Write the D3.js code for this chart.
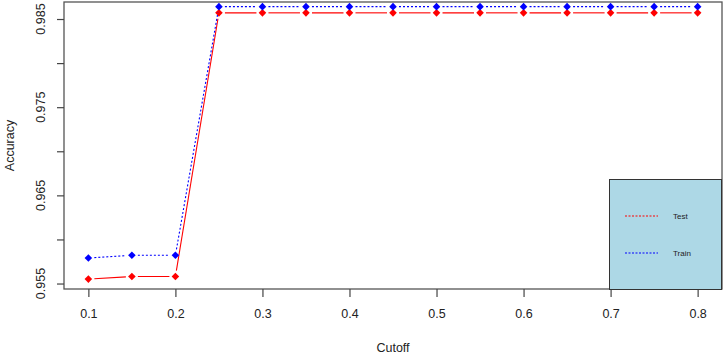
<!DOCTYPE html>
<html>
<head>
<meta charset="utf-8">
<script src="https://cdn.jsdelivr.net/npm/d3@7"></script>
<style>
body { margin: 0; background: #fff; }
svg { display: block; font-family: "Liberation Sans", Arial, sans-serif; }
</style>
</head>
<body>
<svg id="chart" width="724" height="355"></svg>
<script>
const cutoffs = [0.1, 0.15, 0.2, 0.25, 0.3, 0.35, 0.4, 0.45, 0.5, 0.55, 0.6, 0.65, 0.7, 0.75, 0.8];
const testAcc = [0.9555, 0.9558, 0.9558, 0.9857, 0.9857, 0.9857, 0.9857, 0.9857, 0.9857, 0.9857, 0.9857, 0.9857, 0.9857, 0.9857, 0.9857];
const trainAcc = [0.9579, 0.9582, 0.9582, 0.9864, 0.9864, 0.9864, 0.9864, 0.9864, 0.9864, 0.9864, 0.9864, 0.9864, 0.9864, 0.9864, 0.9864];
const xTicks = [0.1, 0.2, 0.3, 0.4, 0.5, 0.6, 0.7, 0.8];
const yTicks = [0.955, 0.96, 0.965, 0.97, 0.975, 0.98, 0.985];
const yLabeled = ["0.955", "0.965", "0.975", "0.985"];
const seriesNames = ["Test", "Train"];

const svg = d3.select("#chart");
const L = 64, R = 722, T = 2, B = 289;

const x = d3.scaleLinear().domain([0.072, 0.828]).range([L, R]);
const y = d3.scaleLinear().domain([0.95438, 0.98693]).range([B, T]);

// frame
svg.append("rect").attr("x", L).attr("y", T).attr("width", R - L).attr("height", B - T)
  .attr("fill", "none").attr("stroke", "#555").attr("stroke-width", 1.3);

// x axis
const xa = svg.append("g").attr("transform", `translate(0,${B})`)
  .call(d3.axisBottom(x).tickValues(xTicks).tickSize(8).tickPadding(12).tickFormat(d3.format(".1f")));
xa.select(".domain").remove();
xa.selectAll("line").attr("stroke", "#444").attr("stroke-width", 1.2);
xa.selectAll("text").attr("font-size", 12.5).attr("fill", "#222");

// y axis
const ya = svg.append("g").attr("transform", `translate(${L},0)`)
  .call(d3.axisLeft(y).tickValues(yTicks).tickSize(7).tickFormat(""));
ya.select(".domain").remove();
ya.selectAll("line").attr("stroke", "#444").attr("stroke-width", 1.2);
svg.append("g").selectAll("text").data(yLabeled).join("text")
  .attr("transform", d => `translate(45,${y(+d)}) rotate(-90)`)
  .attr("text-anchor", "middle").attr("font-size", 12.5).attr("fill", "#222")
  .text(d => d);

// axis titles
svg.append("text").attr("x", (L + R) / 2).attr("y", 352).attr("text-anchor", "middle")
  .attr("font-size", 12.5).attr("fill", "#222").text("Cutoff");
svg.append("text").attr("transform", `translate(14,${(T + B) / 2}) rotate(-90)`).attr("text-anchor", "middle")
  .attr("font-size", 12.5).attr("fill", "#222").text("Accuracy");

// series with R type="b" gaps
function drawSeries(vals, color, dash) {
  const pts = cutoffs.map((c, i) => [x(c), y(vals[i])]);
  const gap = 6;
  for (let i = 0; i < pts.length - 1; i++) {
    const [x1, y1] = pts[i], [x2, y2] = pts[i + 1];
    const dx = x2 - x1, dy = y2 - y1, len = Math.hypot(dx, dy);
    if (len <= 2 * gap) continue;
    const ux = dx / len, uy = dy / len;
    svg.append("line")
      .attr("x1", x1 + ux * gap).attr("y1", y1 + uy * gap)
      .attr("x2", x2 - ux * gap).attr("y2", y2 - uy * gap)
      .attr("stroke", color).attr("stroke-width", 1.1)
      .attr("stroke-dasharray", dash);
  }
  const r = 3.8;
  svg.append("g").selectAll("path").data(pts).join("path")
    .attr("d", `M0,${-r}L${r},0L0,${r}L${-r},0Z`)
    .attr("transform", d => `translate(${d[0]},${d[1]})`)
    .attr("fill", color);
}
drawSeries(testAcc, "#ff0000", null);
drawSeries(trainAcc, "#0000ff", "2,2");

// legend
const lg = svg.append("g");
lg.append("rect").attr("x", 609.5).attr("y", 179.5).attr("width", 112).attr("height", 110)
  .attr("fill", "#add8e6").attr("stroke", "#333").attr("stroke-width", 1);
const legendColors = ["#ff0000", "#0000ff"];
seriesNames.forEach((n, i) => {
  const ly = 216 + i * 37;
  lg.append("line").attr("x1", 625).attr("x2", 658).attr("y1", ly).attr("y2", ly)
    .attr("stroke", legendColors[i]).attr("stroke-width", 1).attr("stroke-dasharray", "2,1.5");
  lg.append("text").attr("x", 673).attr("y", ly + 3).attr("font-size", 8).attr("fill", "#222").text(n);
});
</script>
</body>
</html>
